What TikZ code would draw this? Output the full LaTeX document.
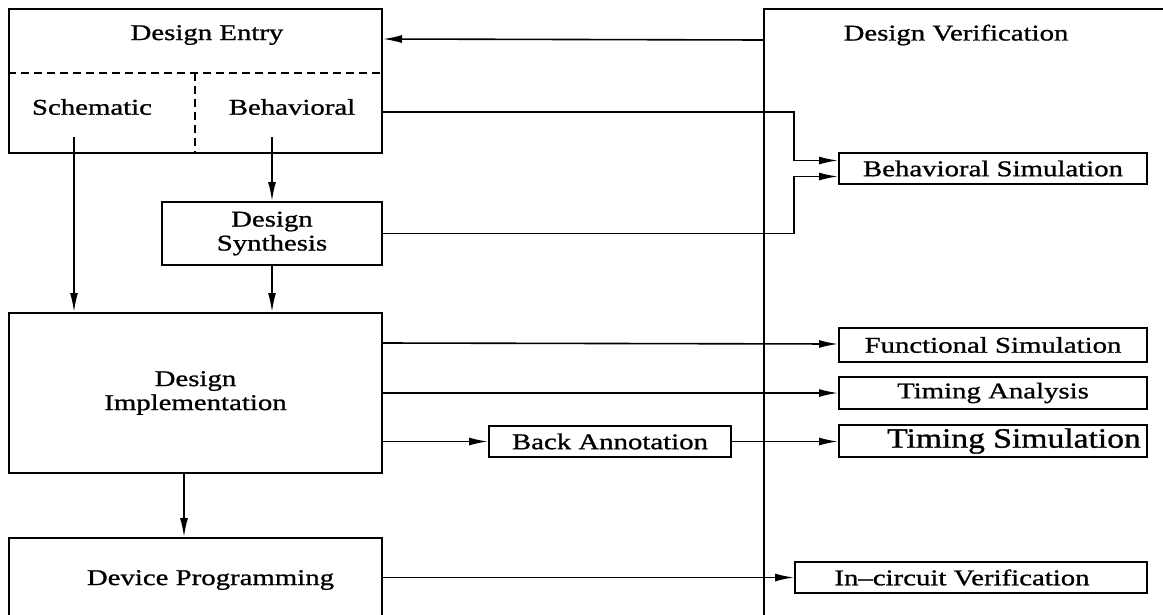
\documentclass[tikz,border=0pt]{standalone}
\usepackage{fontspec}
\setmainfont{Liberation Serif}[FakeStretch=1.28,FakeBold=1]
\newfontfamily\bigserif{Liberation Serif}[FakeStretch=1.2,FakeBold=1]
\usetikzlibrary{arrows.meta,calc}
\begin{document}
\begin{tikzpicture}[x=1pt,y=-1pt,
  box/.style={draw,line width=2pt,rectangle,inner sep=0pt},
  lbl/.style={inner sep=0pt,font=\fontsize{22.5}{24}\selectfont,align=center},
  arr/.style={line width=1.6pt,-{Latex[length=19pt,width=8pt]}},
  divider/.style={line width=1.6pt,dash pattern=on 8pt off 5pt}]
\useasboundingbox (0,0) rectangle (1163,614);
\clip (0,0) rectangle (1163,614);

% left column: design flow
\node[box,minimum width=373pt,minimum height=144.5pt] (de) at (195.5,80.75) {};
\node[lbl] (detitle) at (207,35) {Design Entry};
\node[lbl] (sch) at (92,107) {Schematic};
\node[lbl] (bhv) at (292,107) {Behavioral};
\draw[divider] (de.west |- 0,73) -- (de.east |- 0,73);
\draw[divider] (195,73) -- (de.south -| 195,0);

\node[box,minimum width=220pt,minimum height=63pt,lbl] (syn) at (272,233.5) {Design\\Synthesis};
\node[box,minimum width=373pt,minimum height=160pt,lbl] (impl) at (195.5,393) {Design\\Implementation};
\node[box,minimum width=373pt,minimum height=120pt] (dp) at (195.5,598) {};
\node[lbl] (dptext) at (210.5,580) {Device Programming};

\node[box,minimum width=242pt,minimum height=31pt,lbl] (ba) at (610,441.5) {Back Annotation};

% right column: design verification
\node[box,anchor=north west,minimum width=500pt,minimum height=700pt] (dv) at (763,8) {};
\node[lbl] (dvtitle) at (956,35) {Design Verification};

\node[box,minimum width=308pt,minimum height=31pt,lbl] (bs) at (993,168.5) {Behavioral Simulation};
\node[box,minimum width=308pt,minimum height=34pt,lbl] (fs) at (993,345) {Functional Simulation};
\node[box,minimum width=308pt,minimum height=32pt,lbl] (ta) at (993,393) {Timing Analysis};
\node[box,minimum width=308pt,minimum height=32pt] (ts) at (993,441) {};
\node[inner sep=0pt,font=\bigserif\fontsize{28}{30}\selectfont] (tstext) at (1014,441) {Timing Simulation};
\node[box,minimum width=352pt,minimum height=31pt] (ic) at (971,577.5) {};
\node[lbl] (ictext) at (962,577.5) {In--circuit Verification};

% connectors
\coordinate (schout) at (74,137);
\coordinate (bhvout) at (272,137);
\draw[arr] (schout) -- (schout |- impl.north);
\draw[arr] (bhvout) -- (bhvout |- syn.north);
\draw[arr] (syn.south) -- (syn.south |- impl.north);
\draw[arr] ($(impl.south)+(-11.5,0)$) -- ($(dp.north)+(-11.5,0)$);

\draw[arr] ($(dv.north west)+(0,32)$) -- ($(de.north east)+(0,31.5)$);
\draw[arr] ($(de.north east)+(0,104.5)$) -| ($(bs.west)+(-44,-8)$) -- ($(bs.west)+(0,-8)$);
\draw[arr] (syn.east) -| ($(bs.west)+(-44,8)$) -- ($(bs.west)+(0,8)$);

\draw[arr] ($(impl.north east)+(0,31)$) -- ($(fs.west)+(0,-1)$);
\draw[arr] (impl.east |- ta) -- (ta.west);
\draw[arr] (impl.east |- ba) -- (ba.west);
\draw[arr] (ba.east) -- (ts.west |- ba);
\draw[arr] (dp.east |- ic) -- (ic.west);
\end{tikzpicture}
\end{document}
